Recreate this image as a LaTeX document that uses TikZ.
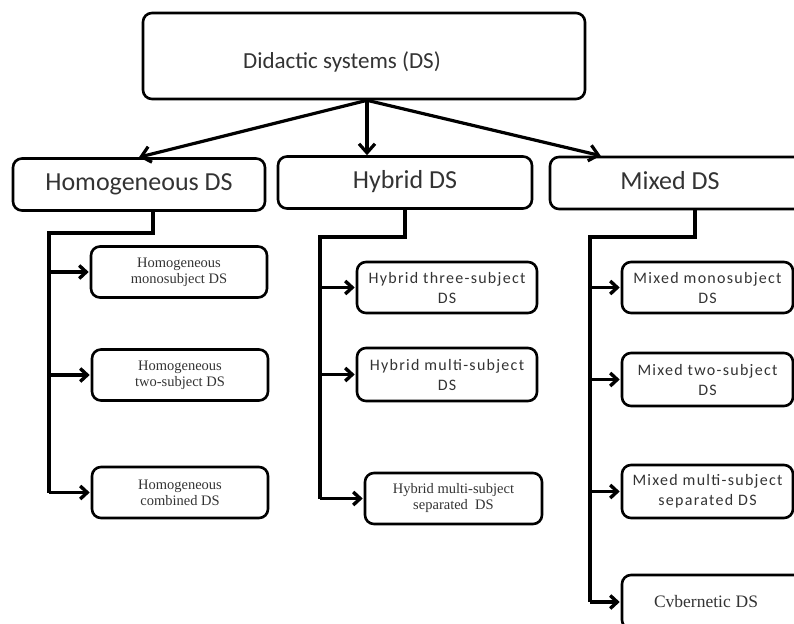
\documentclass[tikz,border=0pt]{standalone}
\usepackage{fontspec}
\setmainfont{Liberation Serif}
\newfontfamily\calfont{Carlito}
\newfontfamily\widecal{Carlito}[LetterSpace=8]
\usetikzlibrary{arrows.meta, positioning}
\usepackage{xcolor}
\colorlet{mytext}{black!80}
\tikzset{
  >={Straight Barb[length=7pt, width=13pt]},
  base box/.style={draw=black, line width=2.6pt, rounded corners=9pt, align=center, text=mytext, inner sep=2pt},
  box top/.style={base box, minimum width=442pt, minimum height=86pt, text height=30pt, text depth=4pt, font=\calfont\fontsize{23}{27}\selectfont},
  box group/.style={base box, minimum height=52pt, text height=17pt, text depth=5pt, font=\calfont\fontsize{26}{30}\selectfont},
  box leaf/.style={base box, minimum width=176pt, minimum height=51pt, font=\widecal\fontsize{16}{20}\selectfont},
  box serif/.style={base box, minimum width=176pt, minimum height=51pt, font=\fontsize{14.5}{16}\selectfont},
  split arrow/.style={-{Straight Barb[length=9pt, width=16pt, line width=3.2pt]}, line width=3.2pt},
  trunk line/.style={line width=4.5pt},
  leaf arrow/.style={->, line width=3.4pt, shorten >=1pt}
}

\begin{document}
\begin{tikzpicture}[x=1pt, y=-1pt]

  % frame of the page, right and bottom boxes run past it
  \useasboundingbox (0,0) rectangle (794,623);
  \clip (0,0) rectangle (794,623);

  % =========================================================
  % TOP AND FIRST LEVEL
  % =========================================================
  \node[box top] (DS) at (364, 56) {Didactic systems (DS)\hspace*{44pt}};

  \node[box group, minimum width=252pt] (Hom) at (139, 184.5) {Homogeneous DS};
  \node[box group, minimum width=254pt] (Hyb) at (405, 182.5) {Hybrid DS};
  \node[box group, minimum width=290pt] (Mix) at (695, 183)   {\hspace*{-50pt}Mixed DS};

  \draw[split arrow] ([xshift=3pt]DS.south) -- (Hom.north);
  \draw[split arrow] ([xshift=3pt]DS.south) -- ([xshift=3pt]DS.south |- Hyb.north);
  \draw[split arrow] ([xshift=3pt]DS.south) -- ([xshift=52pt]Mix.north west);

  % =========================================================
  % HOMOGENEOUS BRANCH
  % =========================================================
  \node[box serif] (Hom1) at (179, 272)   {Homogeneous\\monosubject DS};
  \node[box serif] (Hom2) at (180, 375)   {Homogeneous\\two-subject DS};
  \node[box serif] (Hom3) at (180, 492.5) {Homogeneous\\combined DS};

  \coordinate (hom-turn) at (49, 233);
  \draw[trunk line] ([xshift=14pt]Hom.south) |- (hom-turn) -- (hom-turn |- Hom3.west);
  \foreach \c in {Hom1, Hom2, Hom3}
    \draw[leaf arrow] (hom-turn |- \c.west) -- (\c.west);

  % =========================================================
  % HYBRID BRANCH
  % =========================================================
  \node[box leaf, minimum width=180pt] (Hyb1) at (447, 287.5) {Hybrid three-subject\\DS};
  \node[box leaf, minimum width=180pt, minimum height=53pt] (Hyb2) at (447, 374.5) {Hybrid multi-subject\\DS};
  \node[box serif, minimum width=177pt] (Hyb3) at (453.5, 498.5) {Hybrid multi-subject\\separated\ \ DS};

  \coordinate (hyb-turn) at (320, 237);
  \draw[trunk line] (Hyb.south) |- (hyb-turn) -- (hyb-turn |- Hyb3.west);
  \foreach \c in {Hyb1, Hyb2, Hyb3}
    \draw[leaf arrow] (hyb-turn |- \c.west) -- (\c.west);

  % =========================================================
  % MIXED BRANCH
  % =========================================================
  \node[box leaf, minimum width=171pt] (Mix1) at (707.5, 287.5) {Mixed monosubject\\DS};
  \node[box leaf, minimum width=171pt, minimum height=53pt] (Mix2) at (707.5, 379.5) {Mixed two-subject\\DS};
  \node[box leaf, minimum width=171pt, minimum height=53pt] (Mix3) at (707.5, 491.5) {Mixed multi-subject\\separated DS};
  \node[box serif, minimum width=196pt, minimum height=54pt, text width=160pt, align=left] (Mix4) at (720, 602) {\hspace*{14pt}\fontsize{17.5}{20}\selectfont Cvbernetic DS};

  \coordinate (mix-turn) at (590, 237);
  \draw[trunk line] (Mix.south) |- (mix-turn) -- (mix-turn |- Mix4.west);
  \foreach \c in {Mix1, Mix2, Mix3, Mix4}
    \draw[leaf arrow] (mix-turn |- \c.west) -- (\c.west);

\end{tikzpicture}
\end{document}
